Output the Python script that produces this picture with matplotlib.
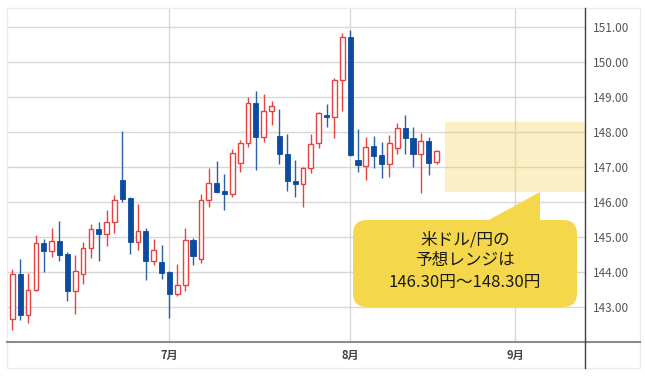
import matplotlib
matplotlib.use('Agg')
from matplotlib import pyplot as plt
from matplotlib.lines import Line2D
from matplotlib.patches import FancyBboxPatch, Polygon, Rectangle
from matplotlib.transforms import IdentityTransform
import numpy as np

plt.rcParams['font.family'] = ['Noto Sans CJK JP', 'DejaVu Sans']

# 日足 (営業日順) USD/JPY
opens = [142.66, 143.95, 142.77, 143.49, 144.83, 144.59, 144.88, 144.52, 143.46, 143.94,
         144.68, 145.23, 145.09, 145.42, 146.64, 146.12, 144.86, 145.16, 144.33, 144.28,
         143.99, 143.36, 143.62, 144.92, 144.37, 146.05, 146.54, 146.31, 146.22, 147.11,
         147.68, 148.82, 147.85, 148.60, 147.89, 147.37, 146.59, 146.51, 146.98, 147.70,
         148.50, 148.44, 149.49, 150.71, 147.20, 147.04, 147.60, 147.35, 147.08, 147.54,
         148.13, 147.83, 147.38, 147.75, 147.16]
closes = [143.95, 142.77, 143.49, 144.83, 144.59, 144.88, 144.49, 143.46, 144.04, 144.68,
          145.22, 145.09, 145.43, 146.05, 146.08, 144.86, 145.16, 144.33, 144.63, 143.97,
          143.38, 143.64, 144.92, 144.47, 146.06, 146.54, 146.30, 146.22, 147.39, 147.68,
          148.82, 147.85, 148.60, 148.76, 147.37, 146.59, 146.51, 146.98, 147.65, 148.54,
          148.44, 149.49, 150.71, 147.35, 147.06, 147.58, 147.33, 147.08, 147.68, 148.13,
          147.82, 147.38, 147.75, 147.13, 147.45]
highs = [144.08, 144.37, 143.97, 145.07, 144.94, 145.27, 145.47, 144.56, 144.48, 144.87,
         145.38, 145.43, 145.78, 146.20, 148.03, 146.16, 145.95, 145.27, 144.94, 144.77,
         144.04, 144.24, 145.25, 144.98, 146.22, 146.98, 147.18, 146.79, 147.51, 147.77,
         149.01, 149.18, 149.08, 148.89, 148.67, 147.94, 147.20, 147.01, 147.94, 148.58,
         148.80, 149.55, 150.84, 150.91, 148.08, 147.87, 147.89, 147.71, 147.92, 148.25,
         148.50, 148.16, 147.99, 147.86, 147.48]
lows = [142.35, 142.62, 142.54, 143.47, 143.99, 144.43, 144.33, 143.18, 142.80, 143.65,
        144.40, 144.33, 144.75, 145.11, 146.00, 144.52, 144.62, 143.77, 144.19, 143.80,
        142.68, 143.32, 143.46, 144.19, 144.25, 145.85, 146.27, 145.78, 146.16, 146.87,
        147.58, 146.92, 147.73, 148.20, 147.08, 146.33, 146.16, 145.87, 146.82, 147.54,
        148.16, 147.82, 148.60, 147.32, 146.87, 146.63, 146.98, 146.68, 146.73, 147.37,
        147.37, 147.01, 146.25, 146.77, 147.09]

month_pos = [20, 43, 64]          # 7/1, 8/1, 9/1 の営業日インデックス
month_labels = ['7月', '8月', '9月']
range_low, range_high = 146.30, 148.30
callout = '米ドル/円の\n予想レンジは\n146.30円～148.30円'

RED = '#e5433f'
BLUE = '#0c4ca0'
W, H = 645, 376

fig = plt.figure(figsize=(W / 100, H / 100), dpi=100)
ax = fig.add_axes([7 / W, (H - 342) / H, 578 / W, 334 / H])

x = np.arange(len(opens))
o = np.array(opens)
c = np.array(closes)
up = c >= o
bottom = np.minimum(o, c)
height = np.maximum(np.abs(c - o), 0.03)

ax.vlines(x[up], np.array(lows)[up], np.array(highs)[up], color=RED, lw=1.0, zorder=3)
ax.vlines(x[~up], np.array(lows)[~up], np.array(highs)[~up], color='#2a60a8', lw=1.0, zorder=3)
ax.bar(x[up], height[up], bottom=bottom[up], width=0.6, facecolor='white',
       edgecolor=RED, linewidth=1.0, zorder=4)
ax.bar(x[~up], height[~up], bottom=bottom[~up], width=0.66, facecolor=BLUE,
       edgecolor=BLUE, linewidth=0.6, zorder=4)

# 予想レンジ
ax.add_patch(Rectangle((55.05, range_low), 30, range_high - range_low,
                       facecolor='#f5d040', alpha=0.3, edgecolor='none', zorder=2))

ax.set_xlim(-0.68, 72.9)
ax.set_ylim(142.0, 151.55)
ax.set_yticks(np.arange(143, 152))
ax.set_yticklabels(['%.2f' % v for v in np.arange(143, 152)])
ax.set_xticks(month_pos)
ax.set_xticklabels(month_labels, fontweight='bold')
ax.yaxis.tick_right()
ax.tick_params(axis='y', length=0, pad=6, labelsize=8.5, labelcolor='#555555')
ax.tick_params(axis='x', length=0, pad=5, labelsize=8, labelcolor='#444444')
ax.grid(True, color='#d8d8d8', lw=1.0, zorder=0)
ax.set_axisbelow(True)
for s in ax.spines.values():
    s.set_visible(False)

# 枠線・軸線
fig.add_artist(Rectangle((7 / W, (H - 368) / H), 633 / W, 360 / H, transform=fig.transFigure,
                         fill=False, edgecolor='#ececec', lw=1))
fig.add_artist(Line2D([7 / W, 640 / W], [(H - 342) / H] * 2, transform=fig.transFigure,
                      color='#8c8c8c', lw=1.5))
fig.add_artist(Line2D([585 / W] * 2, [(H - 368) / H, (H - 8) / H], transform=fig.transFigure,
                      color='#3a3f4c', lw=1.0))

# 吹き出し
idt = IdentityTransform()
fig.add_artist(FancyBboxPatch((353, H - 307), 224, 87, boxstyle='round,pad=0,rounding_size=14',
                              transform=idt, facecolor='#f5d74b', edgecolor='none'))
fig.add_artist(Polygon([(485, H - 222), (540, H - 192), (540, H - 222)], closed=True,
                       transform=idt, facecolor='#f5d74b', edgecolor='none'))
fig.text(465 / W, (H - 261) / H, callout, ha='center', va='center', fontsize=12,
         linespacing=1.32, color='#1a1a1a')

fig.savefig('out.png', dpi=100)
